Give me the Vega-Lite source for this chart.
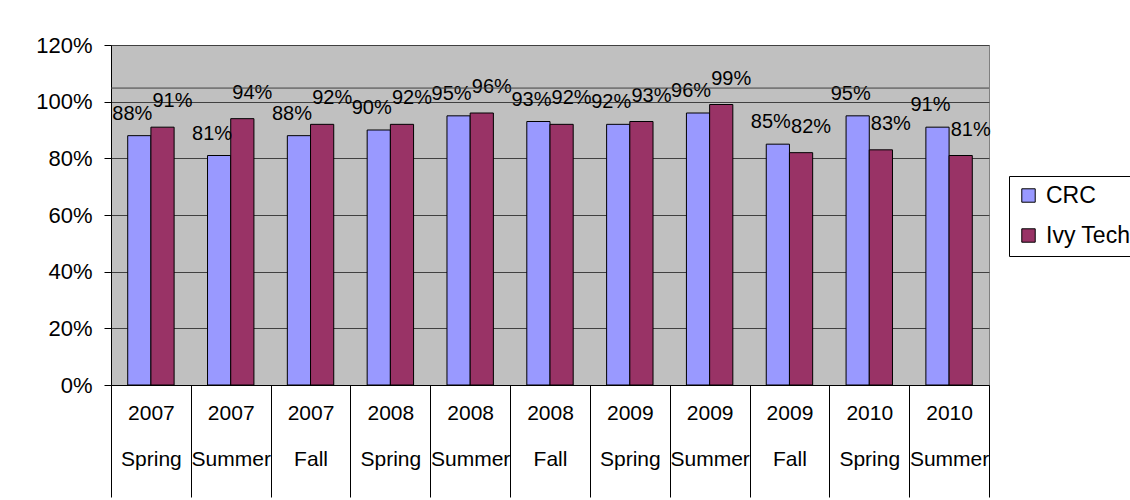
{
  "$schema": "https://vega.github.io/schema/vega-lite/v6.json",
  "width": 878,
  "height": 340,
  "autosize": {"type": "none"},
  "padding": {"left": 111, "top": 45, "right": 141, "bottom": 115},
  "background": "white",
  "config": {
    "font": "Liberation Sans",
    "view": {"fill": "#C0C0C0", "stroke": "#808080"},
    "axisY": {"grid": true, "gridColor": "#404040", "gridOpacity": 1, "gridWidth": 1}
  },
  "data": {
    "values": [
      {"term": "2007 Spring", "series": "CRC", "value": 0.88},
      {"term": "2007 Spring", "series": "Ivy Tech", "value": 0.91},
      {"term": "2007 Summer", "series": "CRC", "value": 0.81},
      {"term": "2007 Summer", "series": "Ivy Tech", "value": 0.94},
      {"term": "2007 Fall", "series": "CRC", "value": 0.88},
      {"term": "2007 Fall", "series": "Ivy Tech", "value": 0.92},
      {"term": "2008 Spring", "series": "CRC", "value": 0.90},
      {"term": "2008 Spring", "series": "Ivy Tech", "value": 0.92},
      {"term": "2008 Summer", "series": "CRC", "value": 0.95},
      {"term": "2008 Summer", "series": "Ivy Tech", "value": 0.96},
      {"term": "2008 Fall", "series": "CRC", "value": 0.93},
      {"term": "2008 Fall", "series": "Ivy Tech", "value": 0.92},
      {"term": "2009 Spring", "series": "CRC", "value": 0.92},
      {"term": "2009 Spring", "series": "Ivy Tech", "value": 0.93},
      {"term": "2009 Summer", "series": "CRC", "value": 0.96},
      {"term": "2009 Summer", "series": "Ivy Tech", "value": 0.99},
      {"term": "2009 Fall", "series": "CRC", "value": 0.85},
      {"term": "2009 Fall", "series": "Ivy Tech", "value": 0.82},
      {"term": "2010 Spring", "series": "CRC", "value": 0.95},
      {"term": "2010 Spring", "series": "Ivy Tech", "value": 0.83},
      {"term": "2010 Summer", "series": "CRC", "value": 0.91},
      {"term": "2010 Summer", "series": "Ivy Tech", "value": 0.81}
    ]
  },
  "encoding": {
    "y": {
      "type": "quantitative",
      "scale": {"domain": [0, 1.2], "nice": false},
      "axis": {
        "title": null,
        "format": ".0%",
        "values": [0, 0.2, 0.4, 0.6, 0.8, 1.0, 1.2],
        "grid": true,
        "gridColor": "#404040",
        "gridOpacity": 1,
        "domainColor": "black",
        "tickColor": "black",
        "tickSize": 7,
        "labelPadding": 12,
        "labelFontSize": 22,
        "labelColor": "black"
      }
    }
  },
  "layer": [
    {
      "encoding": {
        "x": {
          "field": "term",
          "type": "nominal",
          "sort": null,
          "scale": {"paddingInner": 0, "paddingOuter": 0},
          "axis": {
            "title": null,
            "labelAngle": 0,
            "domainColor": "black",
            "tickColor": "black",
            "tickSize": 112,
            "tickBand": "extent",
            "labelPadding": -95,
            "labelFontSize": 21,
            "labelColor": "black",
            "labelLineHeight": 46,
            "labelBaseline": "top",
            "labelExpr": "split(datum.label, ' ')"
          }
        },
        "xOffset": {
          "field": "series",
          "type": "nominal",
          "sort": ["CRC", "Ivy Tech"],
          "scale": {"paddingInner": 0, "paddingOuter": 0.72}
        },
        "y": {"field": "value", "type": "quantitative"}
      },
      "layer": [
        {
          "mark": {"type": "bar", "stroke": "black", "strokeWidth": 1},
          "encoding": {
            "color": {
              "field": "series",
              "type": "nominal",
              "scale": {"domain": ["CRC", "Ivy Tech"], "range": ["#9999FF", "#993366"]},
              "legend": {
                "title": null,
                "orient": "none",
                "legendX": 898,
                "legendY": 131,
                "strokeColor": "black",
                "fillColor": "white",
                "padding": 8,
                "symbolType": "square",
                "symbolSize": 180,
                "symbolStrokeColor": "black",
                "symbolStrokeWidth": 1,
                "symbolOpacity": 1,
                "labelFontSize": 23,
                "labelColor": "black",
                "labelOffset": 6,
                "rowPadding": 16
              }
            }
          }
        },
        {
          "transform": [{"filter": "datum.series == 'CRC'"}],
          "mark": {"type": "text", "dy": -22, "dx": -7, "fontSize": 20, "color": "black"},
          "encoding": {"text": {"field": "value", "type": "quantitative", "format": ".0%"}}
        },
        {
          "transform": [{"filter": "datum.series == 'Ivy Tech'"}],
          "mark": {"type": "text", "dy": -26, "dx": 10, "fontSize": 20, "color": "black"},
          "encoding": {"text": {"field": "value", "type": "quantitative", "format": ".0%"}}
        }
      ]
    },
    {
      "data": {"values": [{}]},
      "mark": {"type": "rule", "color": "#404040", "strokeWidth": 1},
      "encoding": {"y": {"datum": 1.048, "type": "quantitative"}}
    }
  ]
}
